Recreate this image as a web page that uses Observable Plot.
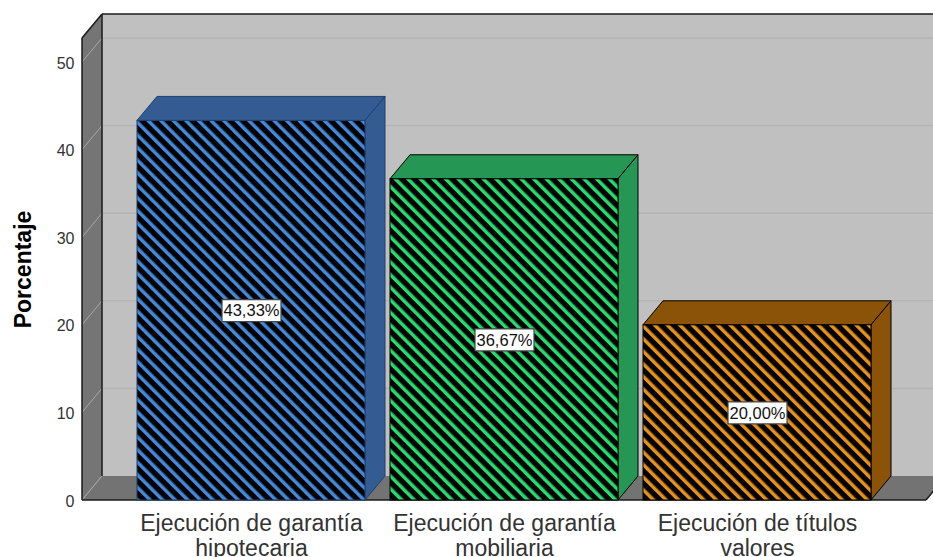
<!DOCTYPE html>
<html>
<head>
<meta charset="utf-8">
<script src="https://cdn.jsdelivr.net/npm/d3@7"></script>
<script src="https://cdn.jsdelivr.net/npm/@observablehq/plot@0.6"></script>
<style>
html,body{margin:0;padding:0;background:#fff;overflow:hidden}
svg{display:block}
</style>
</head>
<body>
<div id="chart"></div>
<script>
const categories = ["Ejecución de garantía hipotecaria", "Ejecución de garantía mobiliaria", "Ejecución de títulos valores"];
const tickLines = ["Ejecución de garantía\nhipotecaria", "Ejecución de garantía\nmobiliaria", "Ejecución de títulos\nvalores"];
const values = [43.33, 36.67, 20.00];
const valueLabels = ["43,33%", "36,67%", "20,00%"];
const yTicks = [0, 10, 20, 30, 40, 50];
const yMax = 52.74;
const faceColors = ["#345c92", "#259653", "#8b5307"];
const stripeColors = ["#4389dc", "#25dc6e", "#e8921a"];
const edgeColors = ["#1f3f6e", "#000000", "#000000"];
const ids = ["hatchA", "hatchB", "hatchC"];
const font = "'Liberation Sans', Arial, sans-serif";
const DX = 20, DY = -24;

const rows = categories.map((c, i) => ({c, v: values[i], label: valueLabels[i], i}));

const poly = (g, pts, fill, stroke, sw = 1) =>
  g.append("polygon").attr("points", pts.map(p => p.join(",")).join(" "))
   .attr("fill", fill).attr("stroke", stroke ?? "none").attr("stroke-width", sw);
const seg = (g, a, b, stroke, sw = 1) =>
  g.append("line").attr("x1", a[0]).attr("y1", a[1]).attr("x2", b[0]).attr("y2", b[1])
   .attr("stroke", stroke).attr("stroke-width", sw);

function defsMark() {
  const s = d3.create("svg:defs");
  ids.forEach((id, i) => {
    const p = s.append("pattern").attr("id", id).attr("patternUnits", "userSpaceOnUse")
      .attr("width", 8.9).attr("height", 8.9).attr("patternTransform", "rotate(-45)");
    p.append("rect").attr("width", 8.9).attr("height", 8.9).attr("fill", "#000");
    p.append("rect").attr("width", 3.5).attr("height", 8.9).attr("fill", stripeColors[i]);
  });
  return s.node();
}

function wallsMark(index, scales, values_, dims) {
  const g = d3.create("svg:g");
  const y = scales.y;
  const left = dims.marginLeft, right = 926;
  const y0 = y(0), yT = y(yMax);
  poly(g, [[left + DX, yT + DY], [dims.width + 30, yT + DY], [dims.width + 30, y0 + DY], [left + DX, y0 + DY]], "#c0c0c0");
  poly(g, [[left, y0], [left + DX, y0 + DY], [left + DX, yT + DY], [left, yT]], "#757575");
  poly(g, [[left, y0], [left + DX, y0 + DY], [right + DX, y0 + DY], [right, y0]], "#737373");
  for (const t of yTicks) {
    seg(g, [left, y(t)], [left + DX, y(t) + DY], "#a8a8a8", 1);
    if (t > 0) seg(g, [left + DX, y(t) + DY], [dims.width, y(t) + DY], "#b3b3b3", 1.5);
  }
  seg(g, [left, y0], [right, y0], "#1a1a1a", 1.5);
  seg(g, [right, y0], [right + DX, y0 + DY], "#1a1a1a", 1.5);
  seg(g, [left, y0], [left, yT], "#1a1a1a", 1.5);
  seg(g, [left, yT], [left + DX, yT + DY], "#1a1a1a", 1.5);
  seg(g, [left + DX, yT + DY], [left + DX, y0 + DY], "#1a1a1a", 1.5);
  seg(g, [left + DX, yT + DY], [dims.width, yT + DY], "#1a1a1a", 1.5);
  return g.node();
}

function facesMark(index, scales) {
  const g = d3.create("svg:g");
  const bw = scales.scales.x.bandwidth;
  rows.forEach(r => {
    const x0 = scales.x(r.c), x1 = x0 + bw, yt = scales.y(r.v), yb = scales.y(0);
    poly(g, [[x0, yt], [x0 + DX, yt + DY], [x1 + DX, yt + DY], [x1, yt]], faceColors[r.i], edgeColors[r.i]);
    poly(g, [[x1, yt], [x1 + DX, yt + DY], [x1 + DX, yb + DY], [x1, yb]], faceColors[r.i], edgeColors[r.i]);
  });
  return g.node();
}

const labelBox = {draw(ctx) { ctx.rect(-29.5, -11, 59, 22); }};

const chart = Plot.plot({
  width: 933,
  height: 557,
  marginLeft: 82,
  marginRight: 0,
  marginTop: 38,
  marginBottom: 57,
  style: {fontFamily: font, background: "#fff"},
  x: {domain: categories, range: [112, 896], padding: 0.0988, label: null},
  y: {domain: [0, yMax], label: null},
  marks: [
    defsMark,
    wallsMark,
    facesMark,
    Plot.barY(rows, {x: "c", y: "v", fill: d => `url(#${ids[d.i]})`, stroke: d => edgeColors[d.i], strokeWidth: 1}),
    Plot.dot(rows, {x: "c", y: d => d.v / 2, symbol: labelBox, fill: "#fff", stroke: "#444", strokeWidth: 1.2}),
    Plot.text(rows, {x: "c", y: d => d.v / 2, dy: 0.5, text: "label", fontSize: 16.5, fill: "#111"}),
    Plot.axisY({ticks: yTicks, tickSize: 0, tickPadding: 8, dy: 1, fontSize: 16, label: null, stroke: "none", fill: "#333"}),
    Plot.axisX({tickSize: 0, tickPadding: 13, fontSize: 23, lineHeight: 1.08, label: null, fill: "#333",
      tickFormat: c => tickLines[categories.indexOf(c)]}),
    Plot.text(["Porcentaje"], {frameAnchor: "left", textAnchor: "middle", rotate: -90, dx: -59, fontSize: 23, fontWeight: "bold", fill: "#000"})
  ]
});
document.getElementById("chart").append(chart);
</script>
</body>
</html>
